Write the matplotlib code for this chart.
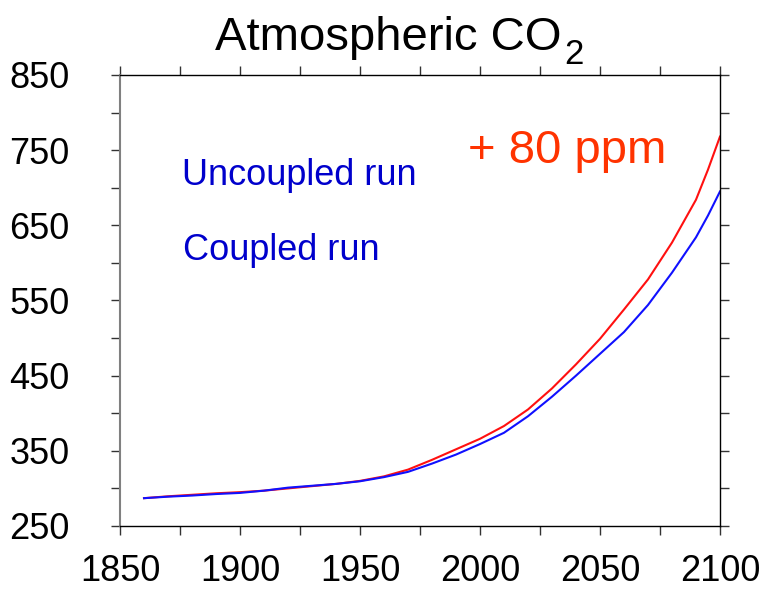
import matplotlib
matplotlib.use('Agg')
from matplotlib import pyplot as plt
from matplotlib.ticker import MultipleLocator
import numpy as np

plt.rcParams['font.family'] = ['Liberation Sans', 'DejaVu Sans']

# years and CO2 (ppm)
years = [1860, 1870, 1880, 1890, 1900, 1910, 1920, 1930, 1940, 1950, 1960,
         1970, 1980, 1990, 2000, 2010, 2020, 2030, 2040, 2050, 2060, 2070,
         2080, 2090, 2095, 2100]
uncoupled = [287, 289.5, 291.5, 293.5, 295, 297, 300, 303, 306, 310, 316,
             325, 338, 352, 366, 383, 405, 433, 465, 499, 538, 578,
             627, 684, 724, 768]
coupled = [287, 289, 290.5, 292.5, 294, 297, 301, 303.5, 306, 309.5, 315,
           322, 333, 345, 359, 374, 396, 422, 450, 479, 508, 544,
           587, 634, 663, 695]

yticks = [250, 350, 450, 550, 650, 750, 850]
xticks = [1850, 1900, 1950, 2000, 2050, 2100]

fig = plt.figure(figsize=(7.63, 5.90), dpi=100)
ax = fig.add_axes([0.1573, 0.1085, 0.7863, 0.7644])

ax.plot(years, uncoupled, color='#ff1010', lw=1.5)
ax.plot(years, coupled, color='#1010ff', lw=1.5)

ax.set_xlim(1850, 2100)
ax.set_ylim(250, 850)
ax.set_xticks(xticks)
ax.set_yticks(yticks)
ax.xaxis.set_minor_locator(MultipleLocator(25))
ax.yaxis.set_minor_locator(MultipleLocator(50))
ax.tick_params(which='both', direction='out', length=6.5, width=1,
               top=True, right=True, color='#333333')
ax.tick_params(axis='x', labelsize=26, pad=14)
ax.tick_params(axis='y', labelsize=26, pad=30)
ax.tick_params(which='minor', labelbottom=False, labelleft=False)

for s in ['top', 'bottom', 'right']:
    ax.spines[s].set_color('black')
    ax.spines[s].set_linewidth(1)
ax.spines['left'].set_color('#808080')
ax.spines['left'].set_linewidth(1.5)

ax.text(1875.8, 703, 'Uncoupled run', color='#0000cc', fontsize=26, va='baseline')
ax.text(1876.3, 604, 'Coupled run', color='#0000cc', fontsize=26, va='baseline')
ax.text(1995, 733, '+ 80 ppm', color='#ff3300', fontsize=34, va='baseline')

# title with a dropped subscript
fig.text(215 / 763, 1 - 50 / 590, 'Atmospheric CO', fontsize=34,
         va='baseline', ha='left')
fig.text(564 / 763, 1 - 64 / 590, '2', fontsize=25, va='baseline', ha='left')

fig.savefig('out.png', dpi=100)
